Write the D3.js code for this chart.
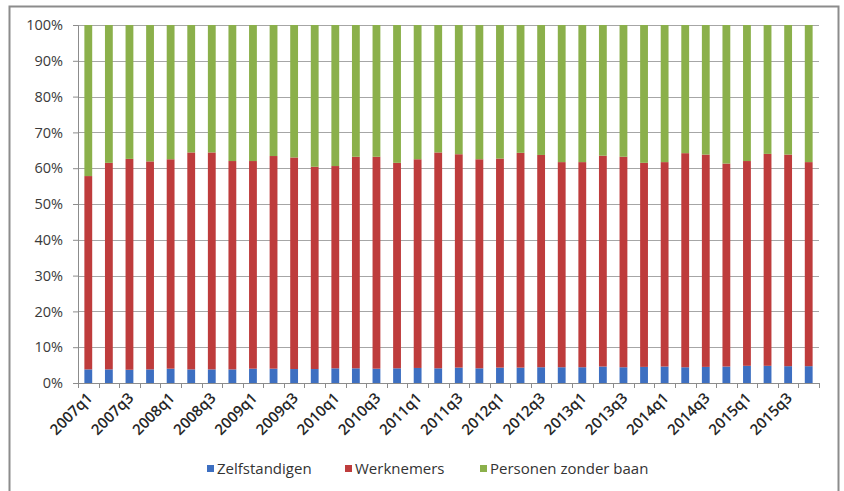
<!DOCTYPE html>
<html>
<head>
<meta charset="utf-8">
<script src="https://cdn.jsdelivr.net/npm/d3@7"></script>
<style>
  body { margin: 0; background: #fff; }
  svg { display: block; font-family: "Open Sans", sans-serif; }
</style>
</head>
<body>
<div id="chart"></div>
<script>
// 2007q1 .. 2015q4
const quarters = [];
for (let y = 2007; y <= 2015; y++) for (let q = 1; q <= 4; q++) quarters.push(y + "q" + q);

const zelfstandigen = [3.8, 3.8, 3.7, 3.8, 4.0, 3.8, 3.8, 3.8, 4.0, 4.0, 3.9, 3.9,
    4.1, 4.1, 4.0, 4.1, 4.2, 4.1, 4.3, 4.1, 4.3, 4.3, 4.4, 4.4,
    4.4, 4.6, 4.4, 4.5, 4.6, 4.4, 4.5, 4.6, 4.8, 4.8, 4.7, 4.7];
const werknemers = [54.0, 57.7, 58.9, 58.1, 58.5, 60.6, 60.6, 58.2, 58.0, 59.4, 59.1, 56.5,
    56.5, 59.1, 59.2, 57.4, 58.3, 60.3, 59.6, 58.4, 58.4, 60.0, 59.3, 57.3,
    57.3, 58.9, 58.8, 57.0, 57.1, 59.8, 59.3, 56.7, 57.2, 59.2, 59.1, 57.0];
const zonderBaan = [42.2, 38.5, 37.4, 38.1, 37.5, 35.6, 35.6, 38.0, 38.0, 36.6, 37.0, 39.6,
    39.4, 36.8, 36.8, 38.5, 37.5, 35.6, 36.1, 37.5, 37.3, 35.7, 36.3, 38.3,
    38.3, 36.5, 36.8, 38.5, 38.3, 35.8, 36.2, 38.7, 38.0, 36.0, 36.2, 38.3];

const seriesNames = ["Zelfstandigen", "Werknemers", "Personen zonder baan"];
const seriesColors = ["#3d6fc1", "#be3c3c", "#8bb04b"];
const yTicks = [0, 10, 20, 30, 40, 50, 60, 70, 80, 90, 100];

const width = 844, height = 491;
const plot = { left: 78, right: 819, top: 25, bottom: 383 };

const rows = quarters.map((q, i) => ({
    q: q,
    Zelfstandigen: zelfstandigen[i],
    Werknemers: werknemers[i],
    "Personen zonder baan": zonderBaan[i]
}));

const svg = d3.select("#chart").append("svg")
    .attr("width", width)
    .attr("height", height);

// outer frame
svg.append("rect")
    .attr("x", 9.5).attr("y", 6.5)
    .attr("width", 829).attr("height", 500)
    .attr("fill", "#fff")
    .attr("stroke", "#8c8c8c")
    .attr("stroke-width", 2);

const x = d3.scaleBand()
    .domain(quarters)
    .range([plot.left, plot.right])
    .paddingInner(0.62)
    .paddingOuter(0.31);

const y = d3.scaleLinear()
    .domain([0, 100])
    .range([plot.bottom, plot.top]);

// gridlines
svg.append("g")
    .selectAll("line")
    .data(yTicks.filter(d => d > 0))
    .enter()
    .append("line")
    .attr("x1", plot.left).attr("x2", plot.right)
    .attr("y1", d => Math.round(y(d)) + 0.5)
    .attr("y2", d => Math.round(y(d)) + 0.5)
    .attr("stroke", "#a6a6a6")
    .attr("stroke-width", 1);

// bars
const stack = d3.stack().keys(seriesNames)(rows);

svg.append("g")
    .selectAll("g")
    .data(stack)
    .enter()
    .append("g")
    .attr("fill", (d, i) => seriesColors[i])
    .selectAll("rect")
    .data(d => d)
    .enter()
    .append("rect")
    .attr("x", d => x(d.data.q))
    .attr("width", x.bandwidth())
    .attr("y", d => y(d[1]))
    .attr("height", d => y(d[0]) - y(d[1]));

// y axis
const yAxis = svg.append("g")
    .attr("transform", `translate(${plot.left},0)`)
    .call(d3.axisLeft(y).tickValues(yTicks).tickFormat(d => d + "%").tickSize(5).tickPadding(10));
yAxis.select(".domain").attr("stroke", "#8c8c8c");
yAxis.selectAll(".tick line").attr("stroke", "#8c8c8c");
yAxis.selectAll("text")
    .attr("font-size", "14.5px")
    .attr("fill", "#3a3a3a")
    .attr("font-family", "'Open Sans', sans-serif");

// x axis: ticks on category boundaries
const boundaries = d3.range(quarters.length + 1).map(i => plot.left + i * (plot.right - plot.left) / quarters.length);
const xg = svg.append("g");
xg.append("line")
    .attr("x1", plot.left).attr("x2", plot.right)
    .attr("y1", plot.bottom + 0.5).attr("y2", plot.bottom + 0.5)
    .attr("stroke", "#8c8c8c");
xg.selectAll("line.tk")
    .data(boundaries)
    .enter()
    .append("line")
    .attr("class", "tk")
    .attr("x1", d => Math.round(d) + 0.5).attr("x2", d => Math.round(d) + 0.5)
    .attr("y1", plot.bottom).attr("y2", plot.bottom + 5)
    .attr("stroke", "#8c8c8c");

xg.selectAll("text")
    .data(quarters.filter((q, i) => i % 2 === 0))
    .enter()
    .append("text")
    .attr("transform", d => `translate(${x(d) + x.bandwidth() / 2 + 5},${plot.bottom + 16}) rotate(-45)`)
    .attr("text-anchor", "end")
    .attr("font-size", "15px")
    .attr("font-weight", 600)
    .attr("fill", "#262626")
    .text(d => d);

// legend
const legendX = [207, 345, 480];
const legend = svg.append("g")
    .selectAll("g")
    .data(seriesNames)
    .enter()
    .append("g")
    .attr("transform", (d, i) => `translate(${legendX[i]},465)`);
legend.append("rect")
    .attr("width", 7).attr("height", 7)
    .attr("fill", (d, i) => seriesColors[i]);
legend.append("text")
    .attr("x", 10).attr("y", 9)
    .attr("font-size", "15px")
    .attr("fill", "#333")
    .text(d => d);
</script>
</body>
</html>
